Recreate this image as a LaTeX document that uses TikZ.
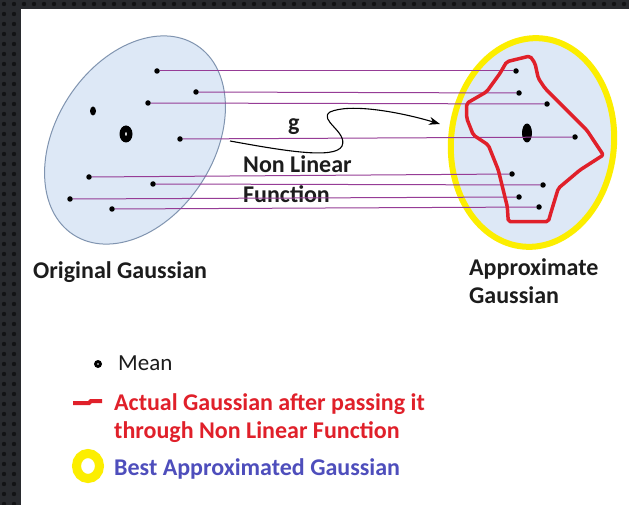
\documentclass[tikz,border=0pt]{standalone}
\usepackage{fontspec}
\setmainfont{Carlito}
\usetikzlibrary{arrows.meta,positioning,calc,shapes.geometric}

\definecolor{gaussfill}{RGB}{221,232,246}
\definecolor{gaussedge}{RGB}{128,148,176}
\definecolor{mapcolor}{RGB}{150,60,150}
\definecolor{actualred}{RGB}{224,32,42}
\definecolor{bestyellow}{RGB}{252,238,0}
\definecolor{bestblue}{RGB}{78,78,188}
\definecolor{frameback}{RGB}{40,42,46}
\definecolor{framedot}{RGB}{18,19,21}
\definecolor{labeltext}{RGB}{28,28,28}

\tikzset{
  sample/.style={circle, fill=black, inner sep=0pt, minimum size=5.5pt},
  meandot/.style={ellipse, fill=black, inner sep=0pt},
  mapwire/.style={draw=mapcolor, line width=1pt},
  glabel/.style={font=\bfseries\fontsize{24}{28}\selectfont, text=labeltext, inner sep=0pt, anchor=base west},
}

\begin{document}
\begin{tikzpicture}[x=1pt, y=-1pt, >=Stealth]
  \useasboundingbox (0,0) rectangle (629,505);
  \fill[frameback] (0,0) rectangle (629,505);
  \foreach \yy in {4,14,...,504} \fill[framedot] (4,\yy) circle (2.2) (14,\yy) circle (2.2);
  \foreach \xx in {24,34,...,629} \fill[framedot] (\xx,4) circle (2.2);
  \fill[white] (21,9) rectangle (629,505);

  % the two gaussians
  \draw[gaussedge, fill=gaussfill, line width=1pt, rotate around={-33:(135,140)}]
    (135,140) ellipse [x radius=79, y radius=113];
  \draw[bestyellow, fill=gaussfill, line width=6pt, rotate around={-5:(532.5,142.5)}]
    (532.5,142.5) ellipse [x radius=81.5, y radius=104.5];

  % text under the lines
  \node[glabel] (nonlin) at (243,173) {Non Linear};
  \node[glabel] (func) at (243,203) {Function};
  \node[glabel] (gname) at (288,131) {g};

  % sample points
  \node[sample] (l1) at (157,71) {};
  \node[sample] (l2) at (196,92) {};
  \node[sample] (l3) at (148,103) {};
  \node[sample] (l4) at (180,139) {};
  \node[sample] (l5) at (89,177) {};
  \node[sample] (l6) at (153,184) {};
  \node[sample] (l7) at (70,199) {};
  \node[sample] (l8) at (112,209) {};
  \node[meandot, minimum width=6pt, minimum height=9pt] (lx) at (93,111) {};
  \node[meandot, minimum width=13pt, minimum height=17pt] (lmean) at (126,134) {};
  \fill[white] (lmean) ellipse [x radius=0.8, y radius=2];

  \node[sample] (r1) at (516,71) {};
  \node[sample] (r2) at (519,93) {};
  \node[sample] (r3) at (547,104) {};
  \node[sample] (r4) at (575,137) {};
  \node[sample] (r5) at (512,174) {};
  \node[sample] (r6) at (543,185) {};
  \node[sample] (r7) at (519,197) {};
  \node[sample] (r8) at (539,207) {};
  \node[meandot, minimum width=10pt, minimum height=19pt] (rmean) at (527,133) {};

  \foreach \i in {1,...,8} \draw[mapwire] (l\i) -- (r\i);

  % actual transformed gaussian
  \draw[actualred, line width=3.5pt, line join=round, rounded corners=2pt]
    (506.7,61.7) -- (530,56) -- (535,63.3) -- (538.3,78.3) -- (545,88.3) -- (560,103.3)
    -- (586.7,130) -- (603.3,155) -- (580,170) -- (558.3,188.3) -- (550.7,213.3)
    -- (548.3,221.7) -- (508.3,221.7) -- (507.3,206.7) -- (498.3,170) -- (488.3,145)
    -- (473.3,135) -- (466.7,118.3) -- (466.7,103.3) -- (486.7,91.7) -- (500,73.3) -- cycle;

  % non linear function g
  \coordinate (gstart) at (230,141);
  \coordinate (gend) at (440,124);
  \draw[->, line width=1.1pt, >={Stealth[length=11pt, width=8pt]}]
    (gstart) .. controls (280,150) and (335,160) .. (342,146)
    .. controls (348,132) and (318,120) .. (330,112)
    .. controls (350,103) and (400,112) .. (gend);

  \node[glabel] (orig) at (33,278) {Original Gaussian};
  \node[glabel] (approx) at (469,275) {Approximate};
  \node[glabel] (approx2) at (469,303) {Gaussian};

  % legend
  \node[circle, fill=black, inner sep=0pt, minimum size=8pt] (meankey) at (98,364) {};
  \fill[white] (meankey) circle (0.8);
  \node[glabel, font=\fontsize{23}{27}\selectfont] (meantext) at (118,370) {Mean};
  \draw[actualred, line width=4pt] (73,403) -- (89,403) -- (91,401) -- (102,401);
  \node[glabel, text=actualred] (actual1) at (114,410) {Actual Gaussian after passing it};
  \node[glabel, text=actualred] (actual2) at (114,438) {through Non Linear Function};
  \draw[bestyellow, line width=9pt] (88,466) ellipse [x radius=11.5, y radius=12.5];
  \node[glabel, text=bestblue] (besttext) at (114,475) {Best Approximated Gaussian};
\end{tikzpicture}
\end{document}
